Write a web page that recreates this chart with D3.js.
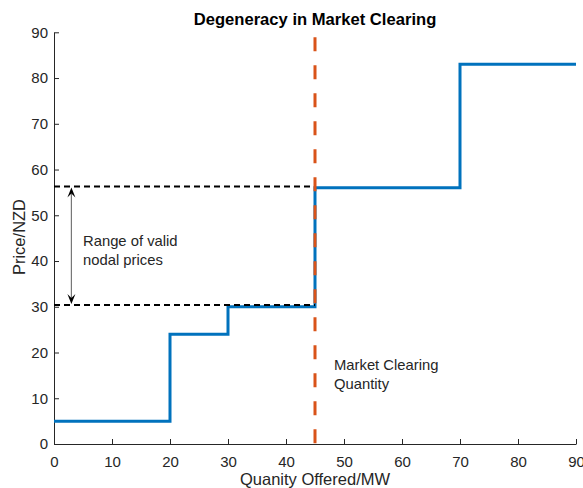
<!DOCTYPE html>
<html>
<head>
<meta charset="utf-8">
<script src="https://cdn.jsdelivr.net/npm/d3@7"></script>
<style>
  html, body { margin: 0; padding: 0; background: #fff; }
  svg { display: block; font-family: "Liberation Sans", Arial, Helvetica, sans-serif; }
</style>
</head>
<body>
<script>
// Offer stack: step starts (MW) and price levels (NZD)
const stepQuantity = [0, 20, 30, 45, 70, 90];
const stepPrice    = [5, 24, 30, 56, 83, 83];

// Market clearing quantity and the band of valid nodal prices
const clearingQuantity = 45;
const priceBand = [30.4, 56.3];
const arrowQuantity = 3;

const xTicks = [0, 10, 20, 30, 40, 50, 60, 70, 80, 90];
const yTicks = [0, 10, 20, 30, 40, 50, 60, 70, 80, 90];

const titleText = "Degeneracy in Market Clearing";
const xLabel = "Quanity Offered/MW";
const yLabel = "Price/NZD";
const bandNote = ["Range of valid", "nodal prices"];
const clearingNote = ["Market Clearing", "Quantity"];

const W = 583, H = 488;
const ink = "#262626";
const blue = "#0072BD", orange = "#D95319";

const svg = d3.select("body").append("svg").attr("width", W).attr("height", H);

const x = d3.scaleLinear().domain([0, 90]).range([54, 576]);
const y = d3.scaleLinear().domain([0, 90]).range([444, 32.3]);

// Axes (left and bottom only, ticks pointing inward)
const gx = svg.append("g").attr("transform", `translate(0,${y(0)})`)
  .call(d3.axisBottom(x).tickValues(xTicks).tickSize(-5).tickPadding(12).tickSizeOuter(0));
const gy = svg.append("g").attr("transform", `translate(${x(0)},0)`)
  .call(d3.axisLeft(y).tickValues(yTicks).tickSize(-5).tickPadding(6).tickSizeOuter(0));
[gx, gy].forEach(g => {
  g.select(".domain").attr("stroke", ink).attr("stroke-width", 1);
  g.selectAll(".tick line").attr("stroke", ink);
  g.selectAll(".tick text").attr("fill", ink).style("font-size", "15px")
    .style("font-family", "\"Liberation Sans\", Arial, Helvetica, sans-serif");
});
gx.selectAll(".tick text").attr("dy", "0.71em");

// Offer curve
const pts = stepQuantity.map((q, i) => [q, stepPrice[i]]);
svg.append("path")
  .datum(pts)
  .attr("fill", "none")
  .attr("stroke", blue)
  .attr("stroke-width", 3)
  .attr("d", d3.line().x(d => x(d[0])).y(d => y(d[1])).curve(d3.curveStepAfter));

// Band limits (dashed black)
svg.selectAll("line.band").data(priceBand).enter().append("line")
  .attr("class", "band")
  .attr("x1", x(0)).attr("x2", x(clearingQuantity))
  .attr("y1", d => y(d)).attr("y2", d => y(d))
  .attr("stroke", "#000").attr("stroke-width", 2)
  .attr("stroke-dasharray", "6,4");

// Market clearing quantity (dashed orange)
svg.append("line")
  .attr("x1", x(clearingQuantity)).attr("x2", x(clearingQuantity))
  .attr("y1", y(90) + 5).attr("y2", y(0))
  .attr("stroke", orange).attr("stroke-width", 3)
  .attr("stroke-dasharray", "14,14");

// Double-headed arrow spanning the price band
const ax = x(arrowQuantity);
const yTop = y(priceBand[1]) + 1, yBot = y(priceBand[0]) - 1;
svg.append("line")
  .attr("x1", ax).attr("x2", ax).attr("y1", yTop + 6).attr("y2", yBot - 6)
  .attr("stroke", "#777").attr("stroke-width", 1.2);
function head(tipY, dir) {
  // dir = +1 pointing up, -1 pointing down
  const L = 10, hw = 4, notch = 6;
  return `M${ax},${tipY} L${ax - hw},${tipY + dir * L} L${ax},${tipY + dir * notch} L${ax + hw},${tipY + dir * L} Z`;
}
svg.append("path").attr("d", head(yTop, 1)).attr("fill", "#000");
svg.append("path").attr("d", head(yBot, -1)).attr("fill", "#000");

// Notes
function note(lines, px, py) {
  const t = svg.append("text").attr("x", px).attr("y", py)
    .attr("fill", ink).style("font-size", "14.8px");
  lines.forEach((s, i) => t.append("tspan").attr("x", px).attr("dy", i ? 19 : 0).text(s));
}
note(bandNote, 83, 246);
note(clearingNote, 334, 370);

// Title and axis labels
svg.append("text").attr("x", 315).attr("y", 24.5).attr("text-anchor", "middle")
  .attr("fill", "#000").style("font-size", "16.6px").style("font-weight", "bold")
  .text(titleText);
svg.append("text").attr("x", 315).attr("y", 485).attr("text-anchor", "middle")
  .attr("fill", ink).style("font-size", "16.5px").text(xLabel);
svg.append("text").attr("transform", `translate(25,237) rotate(-90)`)
  .attr("text-anchor", "middle").attr("fill", ink).style("font-size", "16.5px").text(yLabel);
</script>
</body>
</html>
